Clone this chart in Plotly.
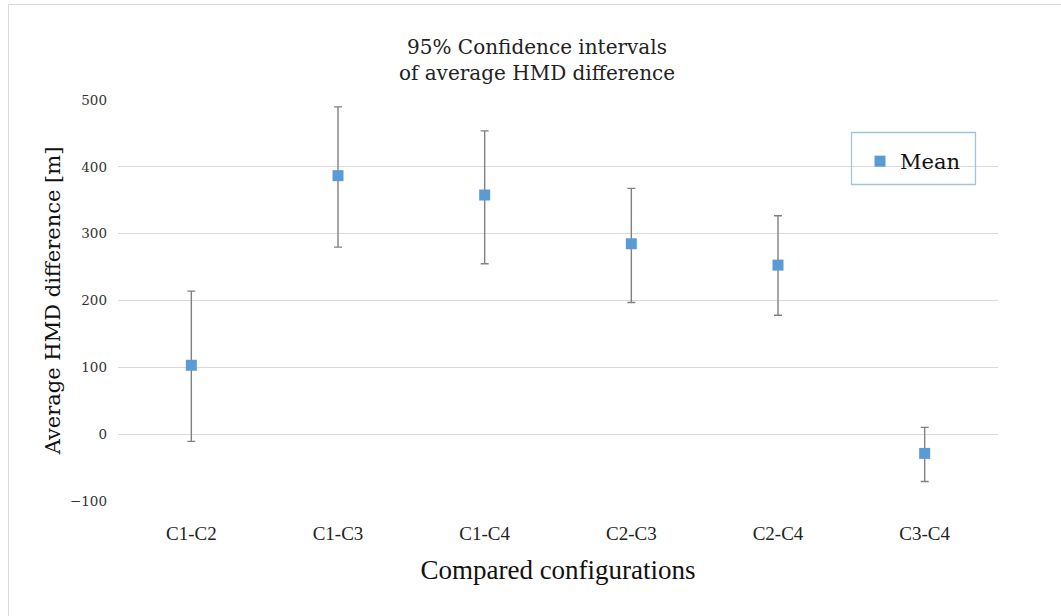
import plotly.graph_objects as go

categories = ["C1-C2", "C1-C3", "C1-C4", "C2-C3", "C2-C4", "C3-C4"]
mean_vals = [103, 387, 358, 285, 253, -29]
upper_vals = [214, 490, 454, 368, 327, 10]
lower_vals = [-11, 280, 255, 197, 178, -71]
y_ticks = [-100, 0, 100, 200, 300, 400, 500]

err_plus = [u - m for u, m in zip(upper_vals, mean_vals)]
err_minus = [m - l for m, l in zip(mean_vals, lower_vals)]

W, H = 1061, 616
L, R, T, B = 118, 63, 100, 115
pw, ph = W - L - R, H - T - B


def px_x(x):
    return (x - L) / pw


def px_y(y):
    return (H - B - y) / ph


fig = go.Figure()
fig.add_trace(go.Scatter(
    x=categories, y=mean_vals, mode="markers", name="Mean",
    marker=dict(symbol="square", size=11, color="#5b9bd5"),
    error_y=dict(type="data", symmetric=False, array=err_plus, arrayminus=err_minus,
                 color="#808080", thickness=1.4, width=4),
))

fig.update_layout(
    width=W, height=H,
    margin=dict(l=L, r=R, t=T, b=B),
    paper_bgcolor="white", plot_bgcolor="white",
    title=dict(text="95% Confidence intervals<br>of average HMD difference",
               x=px_x(537), xref="paper", xanchor="center",
               y=1 - 54 / H, yref="container", yanchor="top",
               font=dict(family="DejaVu Serif, serif", size=20, color="#222222")),
    showlegend=True,
    legend=dict(x=px_x(860), y=px_y(141), xanchor="left", yanchor="top",
                bgcolor="rgba(0,0,0,0)", borderwidth=0,
                font=dict(family="DejaVu Serif, serif", size=21, color="#111111")),
    xaxis=dict(type="category", range=[-0.5, 5.5], showgrid=False, zeroline=False, showline=False,
               ticks="", tickfont=dict(family="Liberation Serif, serif", size=19, color="#222222"),
               ticklabelstandoff=19,
               title=dict(text="Compared configurations", standoff=17,
                          font=dict(family="Liberation Serif, serif", size=27, color="#111111"))),
    yaxis=dict(range=[-100.3, 500.3], tickvals=y_ticks, showgrid=True,
               gridcolor="#d9d9d9", gridwidth=1, zeroline=False, showline=False,
               ticks="", tickfont=dict(family="DejaVu Serif, serif", size=13.5, color="#333333"),
               ticklabelstandoff=10,
               title=dict(text="Average HMD difference [m]", standoff=3,
                          font=dict(family="DejaVu Serif, serif", size=21, color="#111111"))),
    shapes=[
        dict(type="rect", xref="paper", yref="paper",
             x0=px_x(8.5), x1=px_x(W + 20), y0=px_y(H + 20), y1=px_y(4.5),
             line=dict(color="#d9d9d9", width=1), fillcolor="rgba(0,0,0,0)", layer="below"),
        dict(type="rect", xref="paper", yref="paper",
             x0=px_x(851.5), x1=px_x(975.5), y0=px_y(184.5), y1=px_y(132.5),
             line=dict(color="#9dc3e6", width=1.3), fillcolor="rgba(0,0,0,0)"),
    ],
)

fig.write_html("out.html")
